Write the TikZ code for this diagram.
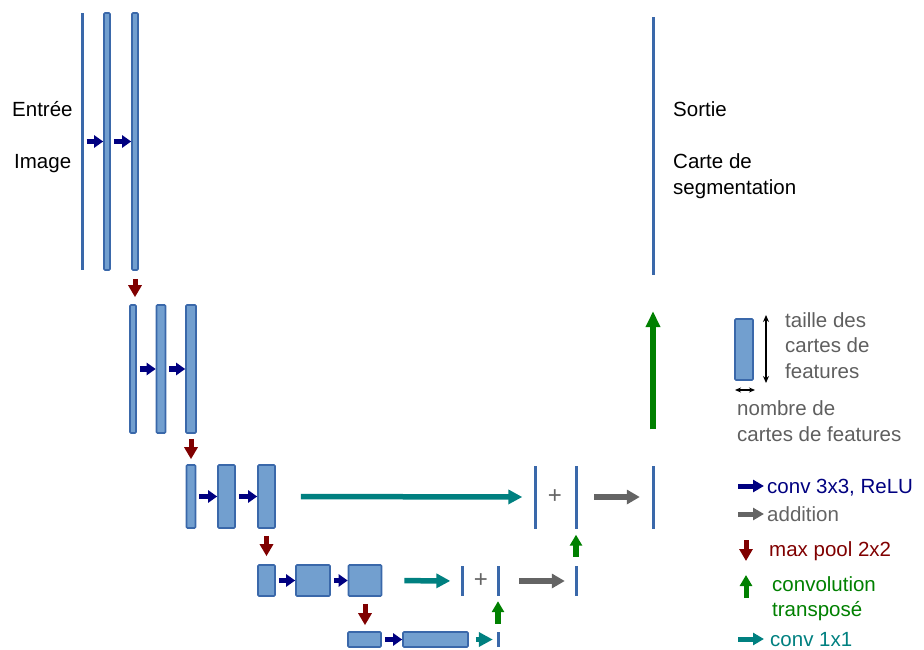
\documentclass[tikz,border=0pt]{standalone}
\usepackage{fontspec}
\setmainfont{Liberation Sans}
\usetikzlibrary{arrows.meta}

\definecolor{barfill}{RGB}{114,159,207}
\definecolor{barline}{RGB}{58,104,170}
\definecolor{cnavy}{RGB}{0,0,128}
\definecolor{cgray}{RGB}{100,100,100}
\definecolor{cmaroon}{RGB}{128,0,0}
\definecolor{cgreen}{RGB}{0,128,0}
\definecolor{cteal}{RGB}{0,128,128}
\definecolor{ctext}{RGB}{95,95,95}

\begin{document}
\begin{tikzpicture}[x=1pt,y=-1pt,
  bar/.style={draw=barline,fill=barfill,line width=1.6pt,rounded corners=1pt,inner sep=0pt},
  fmap/.style={fill=barline,draw=none,inner sep=0pt,minimum width=3pt},
  lbl/.style={anchor=base west,inner sep=0pt,font=\fontsize{20.5}{25.5}\selectfont},
  conv/.style={cnavy,line width=5.5pt,-{Triangle[length=9pt,width=12pt]},shorten <=3pt},
  pool/.style={cmaroon,line width=5pt,-{Triangle[length=12pt,width=13pt]}},
  upconv/.style={cgreen,line width=5.5pt,-{Triangle[length=11pt,width=12pt]}},
  onebyone/.style={cteal,line width=5.5pt,-{Triangle[length=14pt,width=14pt]}},
  addarrow/.style={cgray,line width=6pt,-{Triangle[length=13pt,width=14pt]}},
  plussign/.style={text=cgray,inner sep=0pt,font=\fontsize{24}{24}\selectfont}]
\useasboundingbox (0,0) rectangle (924,650);

% level 1
\node[fmap,minimum height=257pt] (a1) at (82,141.5) {};
\node[bar,minimum width=6pt,minimum height=257pt] (a2) at (107,141.5) {};
\node[bar,minimum width=6pt,minimum height=257pt] (a3) at (135,141.5) {};
% level 2
\node[bar,minimum width=6pt,minimum height=128pt] (b1) at (133,369) {};
\node[bar,minimum width=9pt,minimum height=128pt] (b2) at (161,369) {};
\node[bar,minimum width=10pt,minimum height=128pt] (b3) at (191,369) {};
% level 3
\node[bar,minimum width=9pt,minimum height=63pt] (c1) at (191,496.5) {};
\node[bar,minimum width=17pt,minimum height=63pt] (c2) at (226.5,496.5) {};
\node[bar,minimum width=17pt,minimum height=63pt] (c3) at (266.5,496.5) {};
\node[fmap,minimum height=63pt] (c4) at (535,497) {};
\node[fmap,minimum height=63pt] (c5) at (576,497) {};
\node[fmap,minimum height=63pt] (c6) at (653,497) {};
\node[plussign] (cplus) at (555,497) {+};
% level 4
\node[bar,minimum width=17pt,minimum height=31pt] (d1) at (266.5,580.5) {};
\node[bar,minimum width=34pt,minimum height=31pt] (d2) at (313,580.5) {};
\node[bar,minimum width=33pt,minimum height=31pt] (d3) at (365,580.5) {};
\node[fmap,minimum height=30pt] (d4) at (462,581) {};
\node[fmap,minimum height=30pt] (d5) at (498,581) {};
\node[fmap,minimum height=30pt] (d6) at (576,581) {};
\node[plussign] (dplus) at (481,581) {+};
% level 5
\node[bar,minimum width=33pt,minimum height=15pt] (e1) at (364.5,639.5) {};
\node[bar,minimum width=65pt,minimum height=15pt] (e2) at (435.5,639.5) {};
\node[fmap,minimum height=15pt] (e3) at (498,639.5) {};
% output
\node[fmap,minimum height=258pt] (out) at (653,146) {};

% conv 3x3 arrows
\draw[conv] (a1.east) -- (a2.west);
\draw[conv] (a2.east) -- (a3.west);
\draw[conv] (b1.east) -- (b2.west);
\draw[conv] (b2.east) -- (b3.west);
\draw[conv] (c1.east) -- (c2.west);
\draw[conv] (c2.east) -- (c3.west);
\draw[conv] (d1.east) -- (d2.west);
\draw[conv] (d2.east) -- (d3.west);
\draw[conv] (e1.east) -- (e2.west);

% max pooling
\draw[pool,shorten <=8pt,shorten >=7pt] (a3.south) -- (a3.south |- b1.north);
\draw[pool,shorten <=5pt,shorten >=5pt] (b3.south) -- (c1.north);
\draw[pool,shorten <=7pt,shorten >=8pt] (c3.south) -- (d1.north);
\draw[pool,shorten <=7pt,shorten >=6pt] (d3.south) -- (d3.south |- e1.north);

% 1x1 convolutions
\draw[onebyone,shorten <=25pt,shorten >=11pt] (c3.east) -- (c4.west);
\draw[onebyone,shorten <=22pt,shorten >=10pt] (d3.east) -- (d4.west);
\draw[onebyone,shorten <=7pt,shorten >=3.5pt] (e2.east) -- (e3.west);

% additions
\draw[addarrow,shorten <=16.5pt,shorten >=11.5pt] (c5.east) -- (c6.west);
\draw[addarrow,shorten <=19.5pt,shorten >=9.5pt] (d5.east) -- (d6.west);

% transposed convolutions
\draw[upconv,shorten <=8pt,shorten >=5pt] (e3.north) -- (d5.south);
\draw[upconv,shorten <=9pt,shorten >=6pt] (d6.north) -- (c5.south);
\draw[upconv,line width=6pt,-{Triangle[length=16pt,width=14pt]},shorten <=36pt,shorten >=36pt] (c6.north) -- (out.south);

% labels
\node[lbl] (lin1) at (12,117) {Entrée};
\node[lbl] (lin2) at (14,168) {Image};
\node[lbl] (lout1) at (673,117) {Sortie};
\node[lbl] (lout2) at (673,168) {Carte de};
\node[lbl] (lout3) at (673,194) {segmentation};

% legend: sizes
\node[bar,minimum width=18pt,minimum height=61pt] (lbox) at (744,349.5) {};
\coordinate (hT) at (766,315);
\coordinate (hB) at (766,383);
\coordinate (wL) at (735,390);
\coordinate (wR) at (755,390);
\draw[line width=1.3pt,{Stealth[length=7pt,width=6pt]}-{Stealth[length=7pt,width=6pt]}] (hT) -- (hB);
\draw[line width=1.3pt,{Stealth[length=6pt,width=5pt]}-{Stealth[length=6pt,width=5pt]}] (wL) -- (wR);
\node[lbl,text=ctext] (t1) at (785,327) {taille des};
\node[lbl,text=ctext] (t2) at (785,352) {cartes de};
\node[lbl,text=ctext] (t3) at (785,378) {features};
\node[lbl,text=ctext] (t4) at (737,415) {nombre de};
\node[lbl,text=ctext] (t5) at (737,441) {cartes de features};

% legend: operations
\coordinate (k1a) at (738,486); \coordinate (k1b) at (764,486);
\coordinate (k2a) at (738,514); \coordinate (k2b) at (764,514);
\coordinate (k3a) at (746,540); \coordinate (k3b) at (746,561);
\coordinate (k4a) at (746,598); \coordinate (k4b) at (746,575);
\coordinate (k5a) at (738,639); \coordinate (k5b) at (764,639);
\draw[conv,shorten <=0pt,line width=5pt,-{Triangle[length=11pt,width=12pt]}] (k1a) -- (k1b);
\draw[addarrow,line width=5pt,-{Triangle[length=11pt,width=12pt]}] (k2a) -- (k2b);
\draw[pool] (k3a) -- (k3b);
\draw[upconv,line width=5pt] (k4a) -- (k4b);
\draw[onebyone,line width=5pt,-{Triangle[length=11pt,width=12pt]}] (k5a) -- (k5b);
\node[lbl,text=cnavy] (o1) at (767,493) {conv 3x3, ReLU};
\node[lbl,text=cgray] (o2) at (767,521) {addition};
\node[lbl,text=cmaroon] (o3) at (769,556) {max pool 2x2};
\node[lbl,text=cgreen] (o4) at (772,591) {convolution};
\node[lbl,text=cgreen] (o5) at (772,616) {transposé};
\node[lbl,text=cteal] (o6) at (770,646) {conv 1x1};
\end{tikzpicture}
\end{document}
